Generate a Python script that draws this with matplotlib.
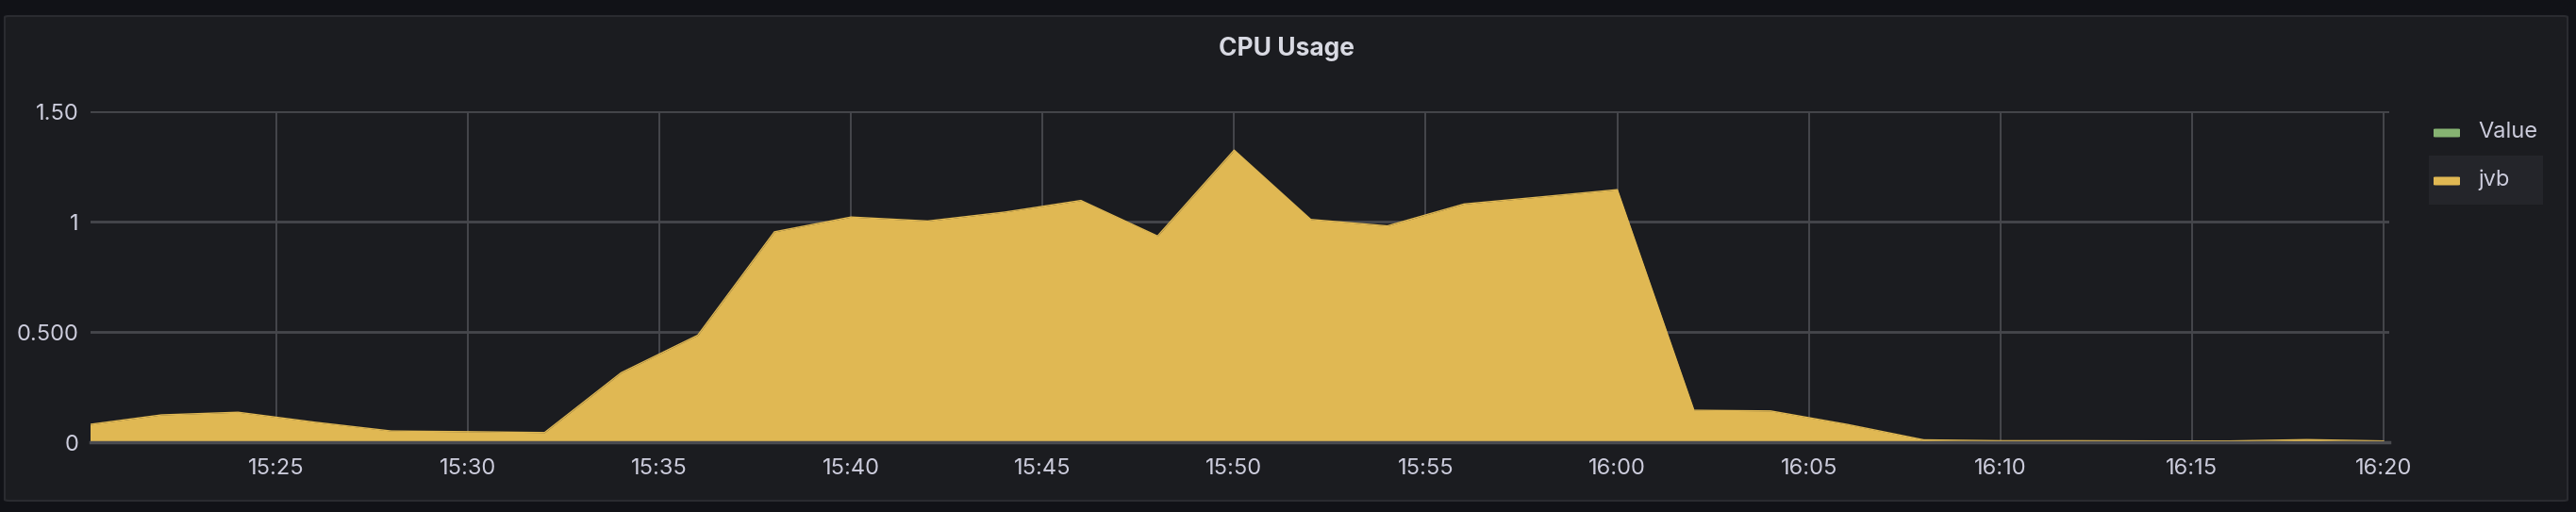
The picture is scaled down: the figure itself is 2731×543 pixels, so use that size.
#!/usr/bin/env python3
"""
Grafana-style "CPU Usage" panel redrawn with matplotlib.
"""

import matplotlib
matplotlib.use('Agg')
import matplotlib.pyplot as plt
import matplotlib.dates as mdates
from matplotlib.patches import FancyBboxPatch, Rectangle
import pandas as pd

# --- data ---
times = ['15:20', '15:22', '15:24', '15:26', '15:28', '15:30', '15:32', '15:34',
         '15:36', '15:38', '15:40', '15:42', '15:44', '15:46', '15:48', '15:50',
         '15:52', '15:54', '15:56', '15:58', '16:00', '16:02', '16:04', '16:06',
         '16:08', '16:10', '16:12', '16:14', '16:16', '16:18', '16:20']
jvb = [0.079, 0.125, 0.137, 0.092, 0.052, 0.049, 0.045, 0.316,
       0.486, 0.954, 1.021, 1.003, 1.043, 1.096, 0.935, 1.324,
       1.010, 0.981, 1.080, 1.112, 1.145, 0.146, 0.143, 0.082,
       0.012, 0.008, 0.008, 0.007, 0.007, 0.013, 0.007]
series_names = ['Value', 'jvb']
series_colors = ['#86B372', '#E0B853']
y_ticks = [0, 0.5, 1, 1.5]
y_tick_labels = ['0', '0.500', '1', '1.50']
x_range = ['15:20:09', '16:20:09']
title = 'CPU Usage'

W, H = 2731, 543
BG = '#111217'
PANEL = '#1b1c20'
GRID = '#46474c'
TEXT = '#ccccdc'

plt.rcParams['font.family'] = ['Inter', 'DejaVu Sans']

day = '2024-01-01 '
t = pd.to_datetime([day + s for s in times])
xlim = pd.to_datetime([day + s for s in x_range])

fig = plt.figure(figsize=(W / 100, H / 100), dpi=100, facecolor=BG)

# panel background
panel = FancyBboxPatch((5 / W, (H - 531) / H), (2722 - 5) / W, (531 - 17) / H,
                       boxstyle='round,pad=0,rounding_size=0.002',
                       transform=fig.transFigure, facecolor=PANEL,
                       edgecolor='#2a2b30', linewidth=1.5, zorder=-5)
fig.patches.append(panel)

fig.text(1364 / W, 1 - 52 / H, title, ha='center', va='center',
         color='#d8d9e2', fontsize=19, fontweight='bold')

# plot area
x0, x1 = 96, 2533
y_top, y_bot = 118, 469.3
ax = fig.add_axes([x0 / W, (H - y_bot) / H, (x1 - x0) / W, (y_bot - y_top) / H])
ax.set_zorder(5)
ax.set_facecolor('none')

ax.fill_between(t, jvb, 0, color=series_colors[1], linewidth=0, zorder=2)
ax.plot(t, jvb, color=series_colors[1], linewidth=1, zorder=3)

ax.set_xlim(xlim[0], xlim[1])
ax.set_ylim(0, 1.5)
ax.set_yticks(y_ticks)
ax.set_yticklabels(y_tick_labels)
ax.xaxis.set_major_locator(mdates.MinuteLocator(byminute=range(0, 60, 5)))
ax.xaxis.set_major_formatter(mdates.DateFormatter('%H:%M'))

ax.tick_params(axis='both', length=0, colors=TEXT, labelsize=17)
ax.tick_params(axis='y', pad=9)
ax.tick_params(axis='x', pad=12)

ax.grid(axis='y', color=GRID, linewidth=2, zorder=1)
ax.grid(axis='x', color=GRID, linewidth=1.4, zorder=1)
ax.set_axisbelow(True)
for side in ['top', 'right', 'left']:
    ax.spines[side].set_visible(False)
ax.spines['bottom'].set_color('#4a4b50')
ax.spines['bottom'].set_linewidth(2.5)
ax.spines['bottom'].set_zorder(4)

# legend (drawn by hand to match the Grafana layout)
fig.patches.append(Rectangle((2575 / W, 1 - 217 / H), 121 / W, 52 / H,
                             transform=fig.transFigure, facecolor='#24252a',
                             edgecolor='none', zorder=1))
for i, (name, col) in enumerate(zip(series_names, series_colors)):
    yc = [141, 192][i]
    fig.patches.append(FancyBboxPatch((2580 / W, 1 - (yc + 4.5) / H), 28 / W, 9 / H,
                                      boxstyle='round,pad=0,rounding_size=0.001',
                                      transform=fig.transFigure, facecolor=col,
                                      edgecolor='none', zorder=2))
    fig.text(2627 / W, 1 - (yc - 1) / H, name, ha='left', va='center',
             color=TEXT, fontsize=17, zorder=3)

plt.savefig('out.png', dpi=100, facecolor=BG)
